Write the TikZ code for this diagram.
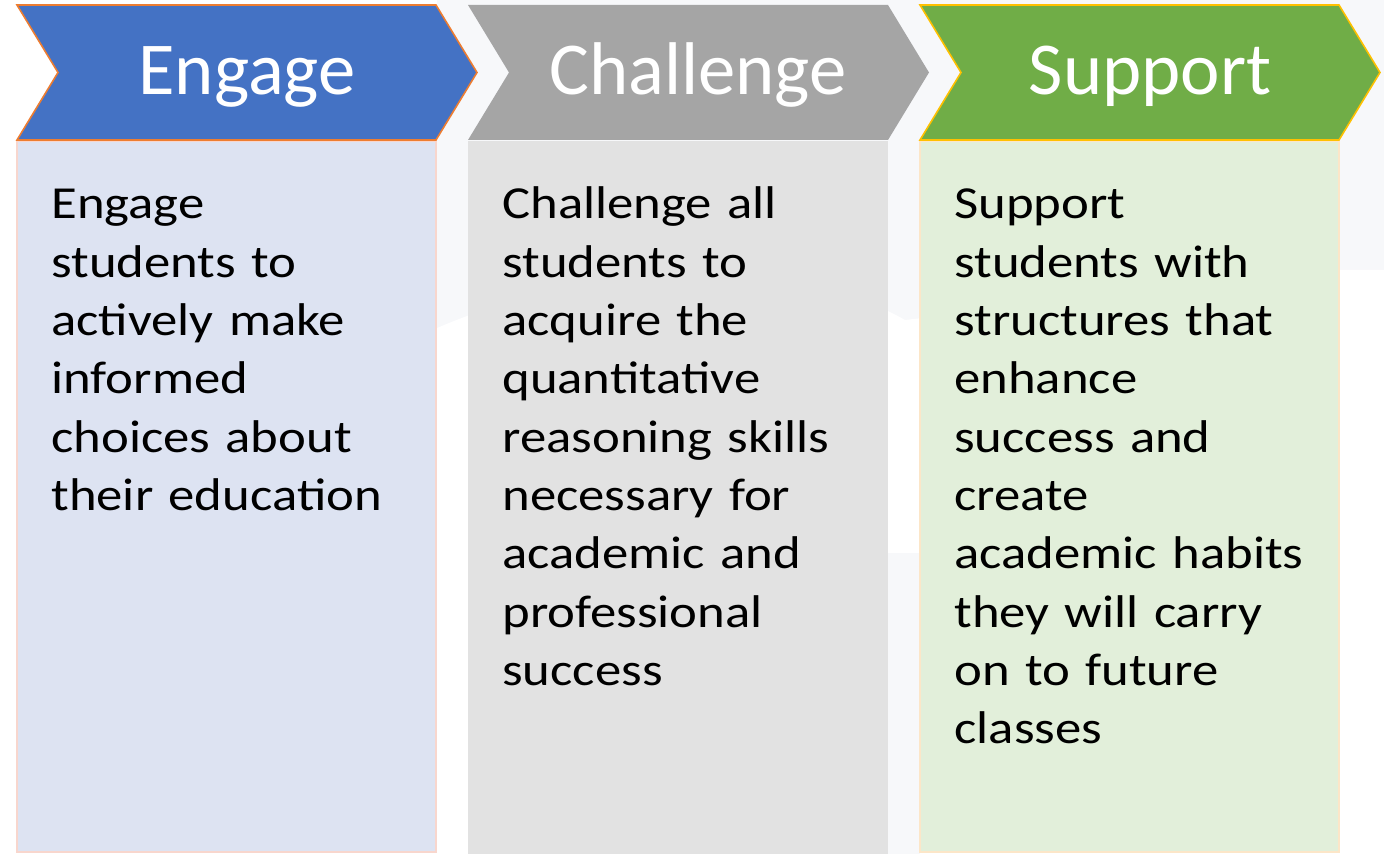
\documentclass[tikz,border=0pt]{standalone}
\usepackage{fontspec}
\usepackage{tikz}
\usetikzlibrary{positioning}
\newfontfamily\headfont{Carlito}
\newfontfamily\bodyfont{Carlito}[FakeStretch=1.15]
\definecolor{engageblue}{RGB}{68,114,196}
\definecolor{engageline}{RGB}{237,125,49}
\definecolor{engagebox}{RGB}{221,227,242}
\definecolor{engageboxline}{RGB}{248,214,205}
\definecolor{challengegray}{RGB}{165,165,165}
\definecolor{challengebox}{RGB}{226,226,226}
\definecolor{supportgreen}{RGB}{112,173,71}
\definecolor{supportline}{RGB}{255,192,0}
\definecolor{supportbox}{RGB}{226,239,218}
\definecolor{supportboxline}{RGB}{252,230,200}
\definecolor{backgray}{RGB}{247,248,250}
\tikzset{
  title/.style={text=white, font=\headfont\fontsize{42.5pt}{50pt}\selectfont, anchor=base, inner sep=0pt},
  body/.style={text=black, font=\bodyfont\fontsize{26.1pt}{33.2pt}\selectfont, anchor=base west, inner sep=0pt, text width=9cm, align=left}
}
\begin{document}
\begin{tikzpicture}[x=0.02cm,y=-0.02cm]
      \useasboundingbox (0,0) rectangle (1384,854);
      % faint backdrop
      \fill[backgray] (437,0) rectangle (1384,854);
      \fill[white] (437,854) -- (437,328) .. controls (620,250) and (800,260) .. (905,320)
        -- (1340,270) -- (1384,270) -- (1384,854) -- cycle;
      \fill[backgray] (888,553) rectangle (920,854);
      % boxes
      \filldraw[fill=engagebox, draw=engageboxline, line width=1pt] (17,141) rectangle (436,852);
      \fill[challengebox] (468,141) rectangle (888,854);
      \filldraw[fill=supportbox, draw=supportboxline, line width=1pt] (920,141) rectangle (1339,852);
      % chevrons
      \filldraw[fill=engageblue, draw=engageline, line width=0.9pt, line join=miter]
        (17,5) -- (436,5) -- (477,72.5) -- (436,140) -- (17,140) -- (58,72.5) -- cycle;
      \fill[challengegray]
        (468,5) -- (888,5) -- (929,72.5) -- (888,140) -- (468,140) -- (509,72.5) -- cycle;
      \filldraw[fill=supportgreen, draw=supportline, line width=0.9pt, line join=miter]
        (920,5) -- (1339,5) -- (1380,72.5) -- (1339,140) -- (920,140) -- (961,72.5) -- cycle;
      % titles
      \node[title] (engage) at (247,95) {Engage};
      \node[title] (challenge) at (698,95) {Challenge};
      \node[title] (support) at (1150,95) {Support};
      % texts
      \node[body] (engagetext) at (51,219) {Engage\\students to\\actively make\\informed\\choices about\\their education};
      \node[body] (challengetext) at (502,219) {Challenge all\\students to\\acquire the\\quantitative\\reasoning skills\\necessary for\\academic and\\professional\\success};
      \node[body] (supporttext) at (954,219) {Support\\students with\\structures that\\enhance\\success and\\create\\academic habits\\they will carry\\on to future\\classes};
\end{tikzpicture}
\end{document}
